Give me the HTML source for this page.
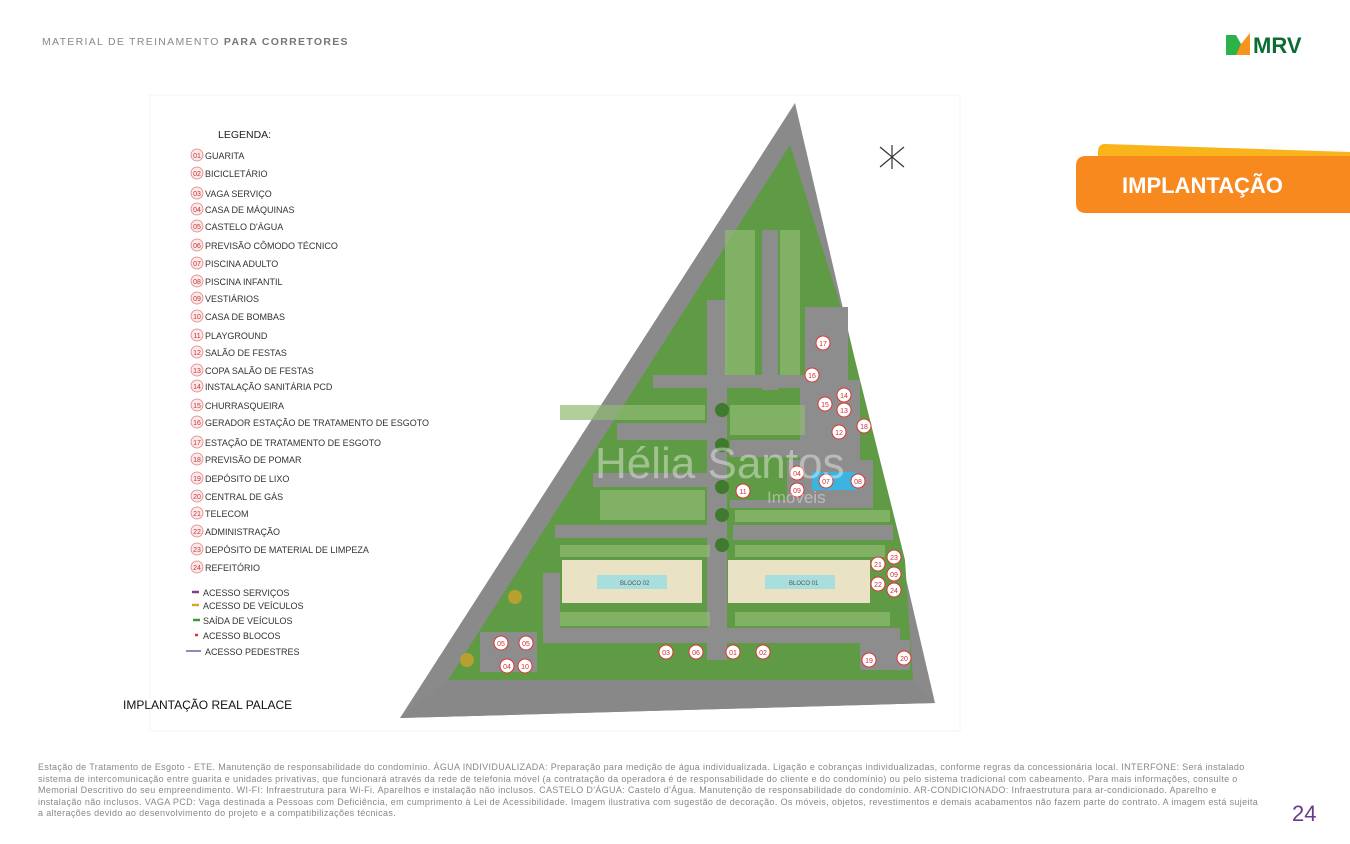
<!DOCTYPE html>
<html><head><meta charset="utf-8">
<style>
body{margin:0;width:1350px;height:844px;background:#fff;position:relative;overflow:hidden;font-family:"Liberation Sans",sans-serif}
.hdr{position:absolute;left:42px;top:36px;font-size:10.5px;letter-spacing:1.3px;color:#888}
.hdr b{color:#777}
.foot{position:absolute;left:38px;top:762px;width:1222px;font-size:9px;letter-spacing:0.35px;line-height:11.6px;color:#888}
.pg{position:absolute;left:1292px;top:801px;font-size:22px;color:#6a3a8a}
</style></head><body>
<div class="hdr">MATERIAL DE TREINAMENTO <b>PARA CORRETORES</b></div>
<svg width="1350" height="844" style="position:absolute;left:0;top:0">
<polygon points="1226,35 1236,35 1241,44 1241,55 1226,55" fill="#2db24a"/>
<polygon points="1241,44 1250,33 1250,55 1236,55" fill="#f7941d"/>
<text x="1253" y="53" font-size="22" font-weight="bold" fill="#0d6b36" font-family="Liberation Sans">MRV</text>
<path d="M1105,144 Q1098,144 1098,152 L1098,160 L1350,160 L1350,152 Z" fill="#f9b31b"/>
<path d="M1086,156 L1350,156 L1350,213 L1086,213 Q1076,213 1076,203 L1076,166 Q1076,156 1086,156Z" fill="#f7891f"/>
<text x="1122" y="193" font-size="22" font-weight="bold" fill="#fff" font-family="Liberation Sans">IMPLANTAÇÃO</text>
<rect x="150" y="95" width="810" height="636" fill="#fff" stroke="#f3f3f3"/>
<polygon points="400,718 795,103 935,703" fill="#8a8a8a"/>
<polygon points="448,680 790,145 845,320 905,560 913,680" fill="#5f9a45"/>
<g fill="#8d8d8d">
<rect x="653" y="375" width="160" height="13"/>
<rect x="617" y="423" width="96" height="17"/>
<rect x="730" y="440" width="83" height="17"/>
<rect x="593" y="473" width="120" height="14"/>
<rect x="730" y="500" width="143" height="8"/>
<rect x="555" y="525" width="158" height="13"/>
<rect x="733" y="525" width="160" height="15"/>
<rect x="707" y="300" width="20" height="360"/>
<rect x="762" y="230" width="16" height="160"/>
<rect x="543" y="628" width="357" height="15"/>
<rect x="543" y="573" width="17" height="70"/>
<rect x="805" y="307" width="43" height="73"/>
<rect x="800" y="380" width="60" height="90"/>
<rect x="787" y="460" width="86" height="43"/>
<rect x="480" y="632" width="57" height="40"/>
<rect x="860" y="640" width="50" height="30"/>
</g>
<polygon points="400,718 448,680 913,680 935,703" fill="#888"/>
<g fill="#8fbb72" opacity="0.7">
<rect x="560" y="405" width="145" height="15"/><rect x="600" y="490" width="105" height="30"/>
<rect x="730" y="405" width="75" height="30"/><rect x="735" y="510" width="155" height="12"/>
<rect x="560" y="545" width="150" height="12"/><rect x="735" y="545" width="150" height="12"/>
<rect x="560" y="612" width="150" height="14"/><rect x="735" y="612" width="155" height="14"/>
<rect x="725" y="230" width="30" height="145"/><rect x="780" y="230" width="20" height="145"/>
</g>
<g fill="#3f7a2e"><circle cx="722" cy="410" r="7"/><circle cx="722" cy="445" r="7"/><circle cx="722" cy="487" r="7"/><circle cx="722" cy="515" r="7"/><circle cx="722" cy="545" r="7"/><circle cx="515" cy="597" r="7" fill="#b8a030"/><circle cx="467" cy="660" r="7" fill="#b8a030"/></g>
<rect x="562" y="560" width="140" height="43" fill="#e9e2c4"/>
<rect x="728" y="560" width="142" height="43" fill="#e9e2c4"/>
<rect x="597" y="575" width="70" height="14" fill="#a8dede"/>
<rect x="765" y="575" width="70" height="14" fill="#a8dede"/>
<text x="620" y="585" font-size="6" fill="#555">BLOCO 02</text>
<text x="789" y="585" font-size="6" fill="#555">BLOCO 01</text>
<rect x="812" y="472" width="45" height="18" fill="#3cb4e0"/>
<g fill="#fff" stroke="#d33" stroke-width="1">
<circle cx="823" cy="343" r="7"/><circle cx="812" cy="375" r="7"/><circle cx="844" cy="395" r="7"/><circle cx="825" cy="404" r="7"/><circle cx="844" cy="410" r="7"/><circle cx="864" cy="426" r="7"/><circle cx="839" cy="432" r="7"/>
<circle cx="797" cy="473" r="7"/><circle cx="826" cy="481" r="7"/><circle cx="858" cy="481" r="7"/><circle cx="797" cy="490" r="7"/><circle cx="743" cy="491" r="7"/>
<circle cx="894" cy="557" r="7"/><circle cx="878" cy="564" r="7"/><circle cx="894" cy="574" r="7"/><circle cx="878" cy="584" r="7"/><circle cx="894" cy="590" r="7"/>
<circle cx="501" cy="643" r="7"/><circle cx="526" cy="643" r="7"/><circle cx="507" cy="666" r="7"/><circle cx="525" cy="666" r="7"/>
<circle cx="666" cy="652" r="7"/><circle cx="696" cy="652" r="7"/><circle cx="733" cy="652" r="7"/><circle cx="763" cy="652" r="7"/><circle cx="869" cy="660" r="7"/><circle cx="904" cy="658" r="7"/>
</g>
<g font-size="7" fill="#c33" text-anchor="middle" font-family="Liberation Sans">
<text x="823" y="346">17</text><text x="812" y="378">16</text><text x="844" y="398">14</text><text x="825" y="407">15</text><text x="844" y="413">13</text><text x="864" y="429">18</text><text x="839" y="435">12</text>
<text x="797" y="476">04</text><text x="826" y="484">07</text><text x="858" y="484">08</text><text x="797" y="493">09</text><text x="743" y="494">11</text>
<text x="894" y="560">23</text><text x="878" y="567">21</text><text x="894" y="577">09</text><text x="878" y="587">22</text><text x="894" y="593">24</text>
<text x="501" y="646">05</text><text x="526" y="646">05</text><text x="507" y="669">04</text><text x="525" y="669">10</text>
<text x="666" y="655">03</text><text x="696" y="655">06</text><text x="733" y="655">01</text><text x="763" y="655">02</text><text x="869" y="663">19</text><text x="904" y="661">20</text>
</g>
<g stroke="#333" stroke-width="1.2"><line x1="880" y1="147" x2="904" y2="167"/><line x1="880" y1="167" x2="904" y2="147"/><line x1="892" y1="145" x2="892" y2="169"/></g>
<text x="595" y="478" font-size="44" fill="#fff" opacity="0.4" font-family="Liberation Sans">Hélia Santos</text>
<text x="767" y="503" font-size="17" fill="#fff" opacity="0.4" font-family="Liberation Sans">Imóveis</text>
<text x="218" y="138" font-size="10.5" fill="#222" font-family="Liberation Sans">LEGENDA:</text>
<g font-size="9" fill="#333" font-family="Liberation Sans">
<g fill="#fbe8e8" stroke="#e08080" stroke-width="0.8">
<circle cx="197" cy="155" r="6"/><circle cx="197" cy="173" r="6"/><circle cx="197" cy="193" r="6"/><circle cx="197" cy="209" r="6"/><circle cx="197" cy="226" r="6"/><circle cx="197" cy="245" r="6"/><circle cx="197" cy="263" r="6"/><circle cx="197" cy="281" r="6"/><circle cx="197" cy="298" r="6"/><circle cx="197" cy="316" r="6"/><circle cx="197" cy="335" r="6"/><circle cx="197" cy="352" r="6"/><circle cx="197" cy="370" r="6"/><circle cx="197" cy="386" r="6"/><circle cx="197" cy="405" r="6"/><circle cx="197" cy="422" r="6"/><circle cx="197" cy="442" r="6"/><circle cx="197" cy="459" r="6"/><circle cx="197" cy="478" r="6"/><circle cx="197" cy="496" r="6"/><circle cx="197" cy="513" r="6"/><circle cx="197" cy="531" r="6"/><circle cx="197" cy="549" r="6"/><circle cx="197" cy="567" r="6"/>
</g>
<g font-size="7" fill="#c33" text-anchor="middle">
<text x="197" y="158">01</text><text x="197" y="176">02</text><text x="197" y="196">03</text><text x="197" y="212">04</text><text x="197" y="229">05</text><text x="197" y="248">06</text><text x="197" y="266">07</text><text x="197" y="284">08</text><text x="197" y="301">09</text><text x="197" y="319">10</text><text x="197" y="338">11</text><text x="197" y="355">12</text><text x="197" y="373">13</text><text x="197" y="389">14</text><text x="197" y="408">15</text><text x="197" y="425">16</text><text x="197" y="445">17</text><text x="197" y="462">18</text><text x="197" y="481">19</text><text x="197" y="499">20</text><text x="197" y="516">21</text><text x="197" y="534">22</text><text x="197" y="552">23</text><text x="197" y="570">24</text>
</g>
<text x="205" y="159">GUARITA</text><text x="205" y="177">BICICLETÁRIO</text><text x="205" y="197">VAGA SERVIÇO</text><text x="205" y="213">CASA DE MÁQUINAS</text><text x="205" y="230">CASTELO D'ÁGUA</text><text x="205" y="249">PREVISÃO CÔMODO TÉCNICO</text><text x="205" y="267">PISCINA ADULTO</text><text x="205" y="285">PISCINA INFANTIL</text><text x="205" y="302">VESTIÁRIOS</text><text x="205" y="320">CASA DE BOMBAS</text><text x="205" y="339">PLAYGROUND</text><text x="205" y="356">SALÃO DE FESTAS</text><text x="205" y="374">COPA SALÃO DE FESTAS</text><text x="205" y="390">INSTALAÇÃO SANITÁRIA PCD</text><text x="205" y="409">CHURRASQUEIRA</text><text x="205" y="426">GERADOR ESTAÇÃO DE TRATAMENTO DE ESGOTO</text><text x="205" y="446">ESTAÇÃO DE TRATAMENTO DE ESGOTO</text><text x="205" y="463">PREVISÃO DE POMAR</text><text x="205" y="482">DEPÓSITO DE LIXO</text><text x="205" y="500">CENTRAL DE GÁS</text><text x="205" y="517">TELECOM</text><text x="205" y="535">ADMINISTRAÇÃO</text><text x="205" y="553">DEPÓSITO DE MATERIAL DE LIMPEZA</text><text x="205" y="571">REFEITÓRIO</text>
<text x="203" y="596">ACESSO SERVIÇOS</text><text x="203" y="609">ACESSO DE VEÍCULOS</text><text x="203" y="624">SAÍDA DE VEÍCULOS</text><text x="203" y="639">ACESSO BLOCOS</text><text x="205" y="655">ACESSO PEDESTRES</text>
</g>
<g stroke-width="2.5"><line x1="192" y1="592" x2="199" y2="592" stroke="#8a3a8a"/><line x1="192" y1="605" x2="199" y2="605" stroke="#d4a830"/><line x1="193" y1="620" x2="200" y2="620" stroke="#3a9a3a"/><line x1="195" y1="635" x2="198" y2="635" stroke="#d33"/></g>
<line x1="186" y1="651" x2="201" y2="651" stroke="#334488" stroke-width="1.2"/>
<text x="123" y="709" font-size="12" fill="#111" font-family="Liberation Sans">IMPLANTAÇÃO REAL PALACE</text>
</svg>
<div class="foot">Estação de Tratamento de Esgoto - ETE. Manutenção de responsabilidade do condomínio. ÁGUA INDIVIDUALIZADA: Preparação para medição de água individualizada. Ligação e cobranças individualizadas, conforme regras da concessionária local. INTERFONE: Será instalado sistema de intercomunicação entre guarita e unidades privativas, que funcionará através da rede de telefonia móvel (a contratação da operadora é de responsabilidade do cliente e do condomínio) ou pelo sistema tradicional com cabeamento. Para mais informações, consulte o Memorial Descritivo do seu empreendimento. WI-FI: Infraestrutura para Wi-Fi. Aparelhos e instalação não inclusos. CASTELO D'ÁGUA: Castelo d'Água. Manutenção de responsabilidade do condomínio. AR-CONDICIONADO: Infraestrutura para ar-condicionado. Aparelho e instalação não inclusos. VAGA PCD: Vaga destinada a Pessoas com Deficiência, em cumprimento à Lei de Acessibilidade. Imagem ilustrativa com sugestão de decoração. Os móveis, objetos, revestimentos e demais acabamentos não fazem parte do contrato. A imagem está sujeita a alterações devido ao desenvolvimento do projeto e a compatibilizações técnicas.</div>
<div class="pg">24</div>
</body></html>
